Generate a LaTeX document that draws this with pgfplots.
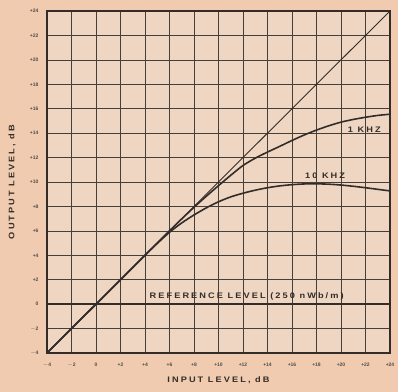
\documentclass[border=0pt]{standalone}
\usepackage{fontspec}
\setmainfont{Liberation Sans}
\usepackage{pgfplots}
\pgfplotsset{compat=1.18}
\usetikzlibrary{backgrounds}
\definecolor{paper}{RGB}{240,203,175}
\definecolor{plotbg}{RGB}{238,214,194}
\definecolor{ink}{RGB}{52,44,40}
\definecolor{gridc}{RGB}{72,62,56}
\newcommand{\spc}[1]{{\addfontfeatures{LetterSpace=26,FakeStretch=1.15}#1}}
\begin{document}
\begin{tikzpicture}
\begin{axis}[
  name=ax,
  scale only axis,
  width=343pt, height=342pt,
  xmin=-4, xmax=24, ymin=-4, ymax=24,
  xtick={-4,-2,...,24}, ytick={-4,-2,...,24},
  xticklabels={$-$4,$-$2,0,+2,+4,+6,+8,+10,+12,+14,+16,+18,+20,+22,+24},
  yticklabels={$-$4,$-$2,0,+2,+4,+6,+8,+10,+12,+14,+16,+18,+20,+22,+24},
  /pgf/number format/assume math mode=true,
  grid=major,
  major grid style={gridc, line width=0.7pt},
  major tick length=0pt,
  axis line style={ink, line width=1.4pt},
  axis background/.style={fill=plotbg},
  tick label style={font=\fontsize{5}{6}\selectfont\bfseries, text=ink!85, text height=3.6pt, text depth=0pt},
  xticklabel style={anchor=center, yshift=-12pt},
  yticklabel style={xshift=-5pt},
  xlabel={\spc{INPUT LEVEL, dB}},
  ylabel={\spc{OUTPUT LEVEL, dB}},
  label style={font=\fontsize{8}{9}\selectfont\bfseries, text=ink},
  xlabel style={at={(axis description cs:0.5,-0.079)}, anchor=center},
  ylabel style={at={(axis description cs:-0.102,0.5)}, anchor=center},
  clip=false,
]
% diagonal reference (unity)
\addplot[ink, line width=0.9pt] coordinates {(-4,-4) (24,24)};
% reference level
\addplot[ink, line width=1.5pt] coordinates {(-4,0) (24,0)};
% 1 kHz
\addplot[ink, line width=1.6pt, smooth] coordinates {
(-4,-4) (0,0) (4,4) (6,6) (7,6.98) (8,7.93) (9,8.83) (10,9.7) (11,10.55) (12,11.35)
(13,11.95) (14,12.45) (15,12.92) (16,13.4) (17,13.85) (18,14.25) (19,14.6)
(20,14.9) (21,15.12) (22,15.3) (23,15.45) (24,15.55)};
% 10 kHz
\addplot[ink, line width=1.6pt, smooth] coordinates {
(-4,-4) (0,0) (4,4) (5,4.97) (6,5.88) (7,6.65) (8,7.3) (9,7.88) (10,8.38) (11,8.78)
(12,9.08) (13,9.33) (14,9.53) (15,9.68) (16,9.78) (17,9.84) (18,9.85) (19,9.82)
(20,9.75) (21,9.65) (22,9.53) (23,9.4) (24,9.27)};
\node[font=\fontsize{8}{9}\selectfont\bfseries, text=ink] at (axis cs:12.3,0.65) {\spc{REFERENCE LEVEL (250 nWb/m)}};
\node[font=\fontsize{8}{9}\selectfont\bfseries, text=ink] at (axis cs:21.9,14.25) {\spc{1 KHZ}};
\node[font=\fontsize{8}{9}\selectfont\bfseries, text=ink] at (axis cs:18.7,10.55) {\spc{10 KHZ}};
\end{axis}
\pgfresetboundingbox
\path[use as bounding box] ([shift={(-47pt,-39pt)}]ax.south west) rectangle ([shift={(8pt,11pt)}]ax.north east);
\begin{scope}[on background layer]
\fill[paper] ([shift={(-47pt,-39pt)}]ax.south west) rectangle ([shift={(8pt,11pt)}]ax.north east);
\end{scope}
\end{tikzpicture}
\end{document}
